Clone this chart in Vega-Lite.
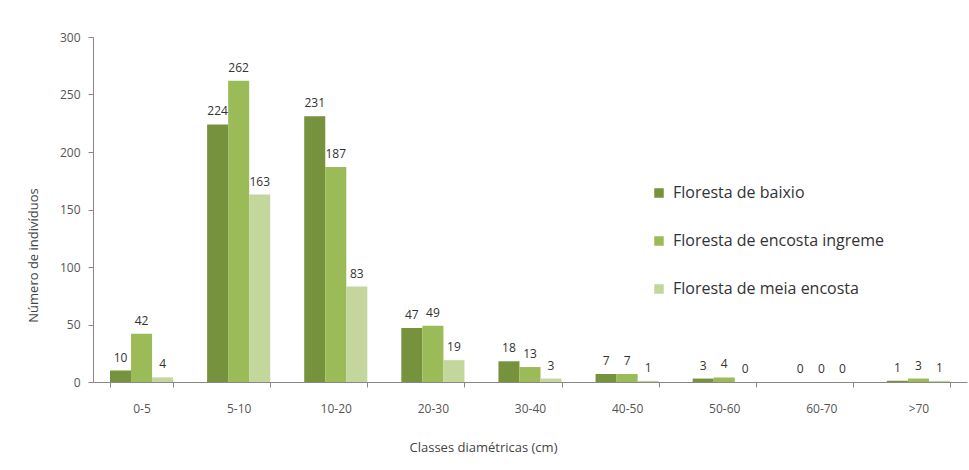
{
  "$schema": "https://vega.github.io/schema/vega-lite/v6.json",
  "width": 874,
  "height": 345,
  "autosize": "none",
  "padding": {"left": 93, "top": 37, "right": 2, "bottom": 88},
  "background": "white",
  "config": {"view": {"stroke": null}, "font": "Open Sans"},
  "data": {
    "values": [
      {"classe": "0-5", "tipo": "Floresta de baixio", "n": 10},
      {"classe": "0-5", "tipo": "Floresta de encosta ingreme", "n": 42},
      {"classe": "0-5", "tipo": "Floresta de meia encosta", "n": 4},
      {"classe": "5-10", "tipo": "Floresta de baixio", "n": 224},
      {"classe": "5-10", "tipo": "Floresta de encosta ingreme", "n": 262},
      {"classe": "5-10", "tipo": "Floresta de meia encosta", "n": 163},
      {"classe": "10-20", "tipo": "Floresta de baixio", "n": 231},
      {"classe": "10-20", "tipo": "Floresta de encosta ingreme", "n": 187},
      {"classe": "10-20", "tipo": "Floresta de meia encosta", "n": 83},
      {"classe": "20-30", "tipo": "Floresta de baixio", "n": 47},
      {"classe": "20-30", "tipo": "Floresta de encosta ingreme", "n": 49},
      {"classe": "20-30", "tipo": "Floresta de meia encosta", "n": 19},
      {"classe": "30-40", "tipo": "Floresta de baixio", "n": 18},
      {"classe": "30-40", "tipo": "Floresta de encosta ingreme", "n": 13},
      {"classe": "30-40", "tipo": "Floresta de meia encosta", "n": 3},
      {"classe": "40-50", "tipo": "Floresta de baixio", "n": 7},
      {"classe": "40-50", "tipo": "Floresta de encosta ingreme", "n": 7},
      {"classe": "40-50", "tipo": "Floresta de meia encosta", "n": 1},
      {"classe": "50-60", "tipo": "Floresta de baixio", "n": 3},
      {"classe": "50-60", "tipo": "Floresta de encosta ingreme", "n": 4},
      {"classe": "50-60", "tipo": "Floresta de meia encosta", "n": 0},
      {"classe": "60-70", "tipo": "Floresta de baixio", "n": 0},
      {"classe": "60-70", "tipo": "Floresta de encosta ingreme", "n": 0},
      {"classe": "60-70", "tipo": "Floresta de meia encosta", "n": 0},
      {"classe": ">70", "tipo": "Floresta de baixio", "n": 1},
      {"classe": ">70", "tipo": "Floresta de encosta ingreme", "n": 3},
      {"classe": ">70", "tipo": "Floresta de meia encosta", "n": 1}
    ]
  },
  "encoding": {
    "x": {
      "field": "classe",
      "type": "nominal",
      "sort": ["0-5", "5-10", "10-20", "20-30", "30-40", "40-50", "50-60", "60-70", ">70"],
      "scale": {"paddingInner": 0.35, "paddingOuter": 0.175},
      "axis": {
        "title": "Classes diamétricas (cm)",
        "titleX": 390,
        "titleY": 65,
        "titleBaseline": "middle",
        "titleFontSize": 13,
        "titleFontWeight": "normal",
        "titleColor": "#444444",
        "labelAngle": 0,
        "labelFontSize": 12,
        "labelColor": "#555555",
        "labelPadding": 16,
        "tickBand": "extent",
        "tickSize": 5,
        "tickColor": "#888888",
        "domainColor": "#888888",
        "grid": false
      }
    },
    "xOffset": {
      "field": "tipo",
      "sort": ["Floresta de baixio", "Floresta de encosta ingreme", "Floresta de meia encosta"]
    },
    "y": {
      "field": "n",
      "type": "quantitative",
      "scale": {"domain": [0, 300], "nice": false},
      "axis": {
        "values": [0, 50, 100, 150, 200, 250, 300],
        "title": "Número de indivíduos",
        "titleX": -60,
        "titleY": 218,
        "titleBaseline": "middle",
        "titleFontSize": 13,
        "titleFontWeight": "normal",
        "titleColor": "#444444",
        "labelFontSize": 12,
        "labelColor": "#555555",
        "labelPadding": 8,
        "tickSize": 5,
        "tickColor": "#888888",
        "domainColor": "#888888",
        "grid": false
      }
    }
  },
  "layer": [
    {
      "mark": {"type": "bar"},
      "encoding": {
        "color": {
          "field": "tipo",
          "type": "nominal",
          "sort": ["Floresta de baixio", "Floresta de encosta ingreme", "Floresta de meia encosta"],
          "scale": {"range": ["#76923C", "#9BBB59", "#C3D69B"]},
          "legend": {
            "title": null,
            "orient": "none",
            "legendX": 558,
            "legendY": 148,
            "symbolType": "square",
            "symbolSize": 90,
            "symbolStrokeWidth": 0,
            "labelFontSize": 16,
            "labelColor": "#333333",
            "labelOffset": 6,
            "labelLimit": 400,
            "rowPadding": 32
          }
        }
      }
    },
    {
      "mark": {"type": "text", "baseline": "bottom", "dy": -6, "fontSize": 12, "color": "#333333"},
      "encoding": {"text": {"field": "n", "type": "quantitative"}}
    }
  ]
}
